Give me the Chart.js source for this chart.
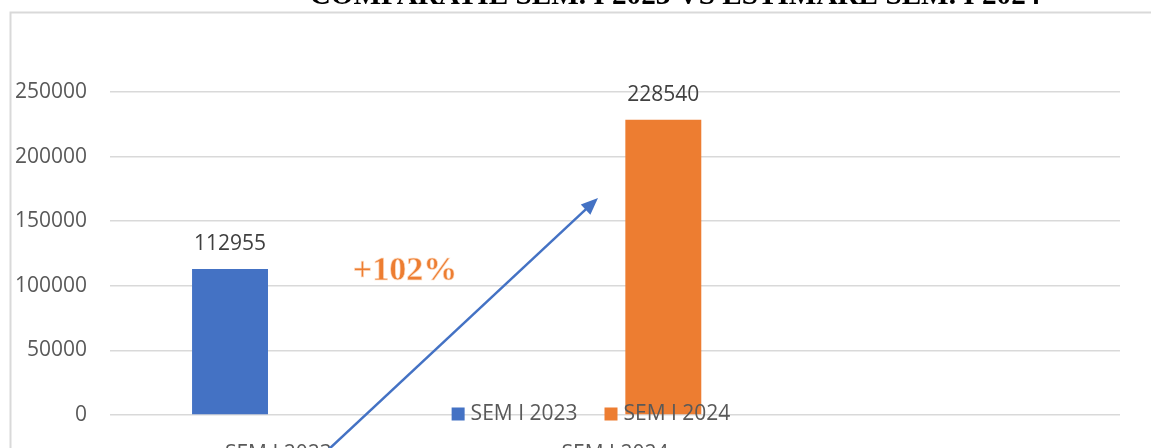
<!DOCTYPE html>
<html>
<head>
<meta charset="utf-8">
<script src="https://cdn.jsdelivr.net/npm/chart.js@4.4.0/dist/chart.umd.min.js"></script>
<style>
  html, body { margin: 0; padding: 0; background: #fff; overflow: hidden; }
  #wrap { position: relative; width: 1151px; height: 448px; }
</style>
</head>
<body>
<div id="wrap"><canvas id="barChart" width="1151" height="448"></canvas></div>
<script>
// données du graphique
var categories = ['SEM I 2023', 'SEM I 2024', ''];
var seriesNames = ['SEM I 2023', 'SEM I 2024'];
var sem2023 = [112955, null, null];
var sem2024 = [null, 228540, null];
var yTicks = [0, 50000, 100000, 150000, 200000, 250000];
var titleText = 'COMPARATIE SEM. I 2023 VS ESTIMARE SEM. I 2024';
var growthText = '+102%';

var blue = '#4472C4';
var orange = '#ED7D31';
var font = '"Open Sans", "Noto Sans", sans-serif';

// cadre + titre (coupé en haut)
var framePlugin = {
    id: 'frame',
    beforeDraw: function (chart) {
        var ctx = chart.ctx;
        ctx.save();
        ctx.strokeStyle = '#d9d9d9';
        ctx.lineWidth = 2;
        ctx.beginPath();
        ctx.moveTo(10.5, chart.height + 2);
        ctx.lineTo(10.5, 12.5);
        ctx.lineTo(chart.width + 2, 12.5);
        ctx.stroke();

        ctx.fillStyle = '#000';
        ctx.textAlign = 'center';
        ctx.textBaseline = 'alphabetic';
        var size = 24;
        ctx.font = 'bold ' + size + 'px "Liberation Serif", serif';
        var w = ctx.measureText(titleText).width;
        size = size * 731 / w;
        ctx.font = 'bold ' + size + 'px "Liberation Serif", serif';
        ctx.fillText(titleText, 675, 4);
        ctx.restore();
    }
};

// étiquettes de valeurs au-dessus des barres + légende
var valueLabels = {
    id: 'valueLabels',
    afterDatasetsDraw: function (chart) {
        var ctx = chart.ctx;
        ctx.save();
        ctx.font = '21px ' + font;
        ctx.fillStyle = '#404040';
        ctx.textAlign = 'center';
        ctx.textBaseline = 'middle';
        chart.data.datasets.forEach(function (ds, i) {
            chart.getDatasetMeta(i).data.forEach(function (bar, j) {
                if (ds.data[j] == null) return;
                ctx.fillText(String(ds.data[j]), bar.x, bar.y - 25);
            });
        });

        // légende dessinée par-dessus la zone du graphique
        var cy = 414, box = 13, gap = 6, space = 27;
        var widths = chart.data.datasets.map(function (ds) {
            return box + gap + ctx.measureText(ds.label).width;
        });
        var total = widths.reduce(function (a, b) { return a + b; }, 0) + space * (widths.length - 1);
        var x = 591 - total / 2;
        ctx.textAlign = 'left';
        chart.data.datasets.forEach(function (ds, i) {
            ctx.fillStyle = ds.backgroundColor;
            ctx.fillRect(x, cy - box / 2, box, box);
            ctx.fillStyle = '#595959';
            ctx.fillText(ds.label, x + box + gap, cy);
            x += widths[i] + space;
        });
        ctx.restore();
    }
};

// flèche et pourcentage
var arrowPlugin = {
    id: 'arrow',
    afterDraw: function (chart) {
        var ctx = chart.ctx;
        var x0 = 328, y0 = 450, x1 = 598, y1 = 198;
        var ang = Math.atan2(y1 - y0, x1 - x0);
        var headLen = 17, headW = 7;
        ctx.save();
        ctx.strokeStyle = blue;
        ctx.fillStyle = blue;
        ctx.lineWidth = 2.5;
        ctx.beginPath();
        ctx.moveTo(x0, y0);
        ctx.lineTo(x1 - Math.cos(ang) * headLen * 0.9, y1 - Math.sin(ang) * headLen * 0.9);
        ctx.stroke();
        var bx = x1 - Math.cos(ang) * headLen, by = y1 - Math.sin(ang) * headLen;
        ctx.beginPath();
        ctx.moveTo(x1, y1);
        ctx.lineTo(bx + Math.sin(ang) * headW, by - Math.cos(ang) * headW);
        ctx.lineTo(bx - Math.sin(ang) * headW, by + Math.cos(ang) * headW);
        ctx.closePath();
        ctx.fill();

        ctx.font = 'bold 34px "Liberation Serif", serif';
        ctx.textAlign = 'center';
        ctx.textBaseline = 'alphabetic';
        ctx.fillStyle = orange;
        ctx.fillText(growthText, 405, 280);
        ctx.strokeStyle = 'rgba(255, 230, 210, 0.7)';
        ctx.lineWidth = 0.8;
        ctx.strokeText(growthText, 405, 280);
        ctx.restore();
    }
};

var ctx = document.getElementById('barChart').getContext('2d');

var myChart = new Chart(ctx, {
    type: 'bar',
    data: {
        labels: categories,
        datasets: [{
            label: seriesNames[0],
            data: sem2023,
            backgroundColor: blue
        }, {
            label: seriesNames[1],
            data: sem2024,
            backgroundColor: orange
        }]
    },
    options: {
        responsive: false,
        animation: false,
        devicePixelRatio: 1,
        categoryPercentage: 0.574,
        barPercentage: 0.786,
        layout: {
            padding: { top: 92, left: 14, right: 31, bottom: 0 }
        },
        plugins: {
            legend: { display: false },
            title: { display: false },
            tooltip: { enabled: false }
        },
        scales: {
            x: {
                grid: { display: false },
                border: { display: false },
                ticks: {
                    color: '#595959',
                    font: { family: font, size: 21 },
                    padding: 18,
                    maxRotation: 0
                },
                afterFit: function (axis) { axis.height = 33; }
            },
            y: {
                min: yTicks[0],
                max: yTicks[yTicks.length - 1],
                border: { display: false },
                grid: { color: '#d9d9d9', lineWidth: 1.5, drawTicks: false },
                ticks: {
                    stepSize: yTicks[1] - yTicks[0],
                    color: '#595959',
                    font: { family: font, size: 21 },
                    padding: 23,
                    callback: function (v) { return String(v); }
                },
                afterFit: function (axis) {
                    axis.width = 96;
                    axis.paddingTop = 0;
                    axis.paddingBottom = 0;
                }
            }
        }
    },
    plugins: [framePlugin, valueLabels, arrowPlugin]
});
</script>
</body>
</html>
